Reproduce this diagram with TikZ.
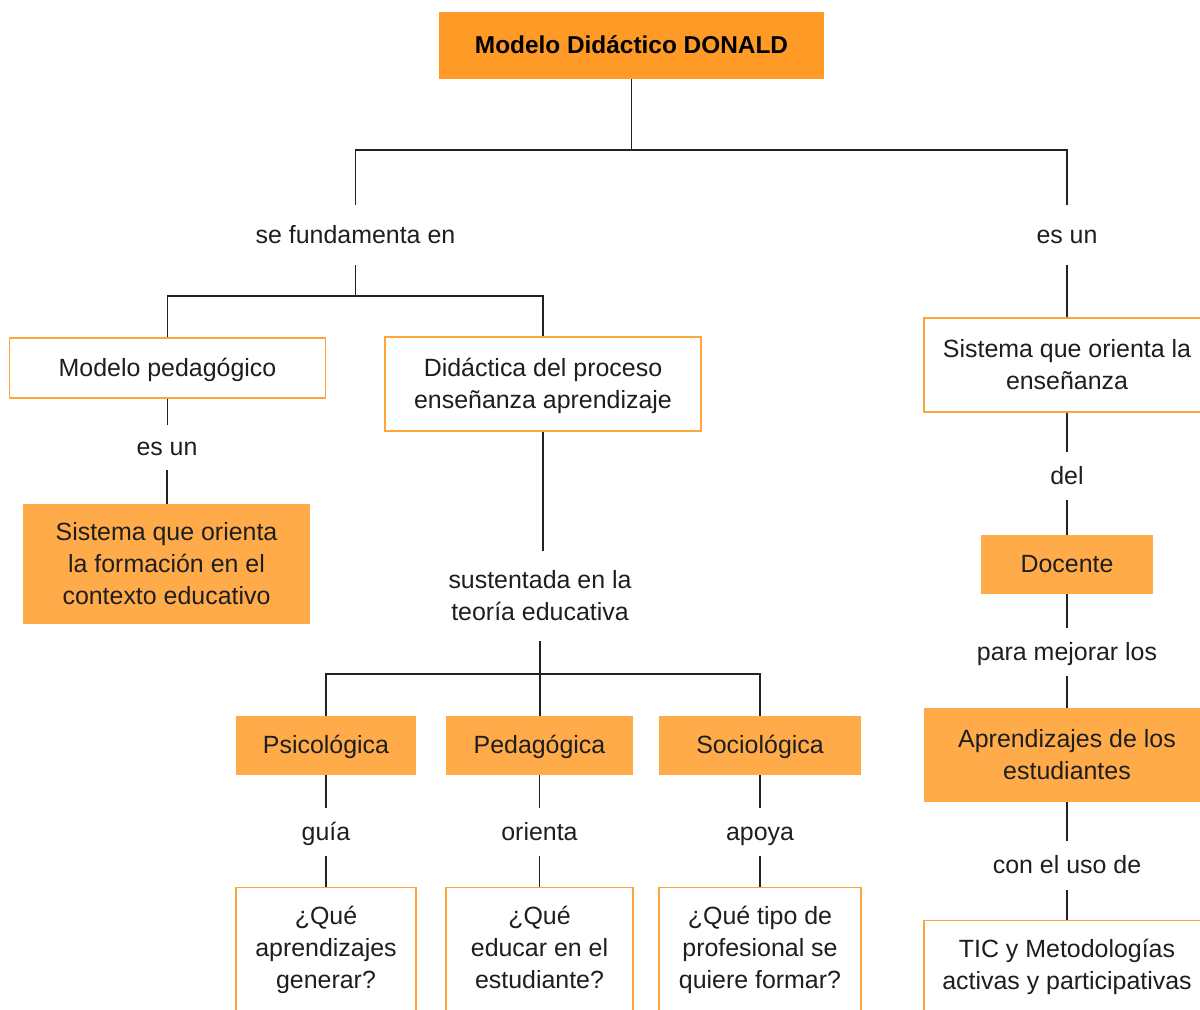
\documentclass[tikz,border=0pt]{standalone}
\usepackage{fontspec}
\setmainfont{Liberation Sans}
\definecolor{titlefill}{HTML}{FF9A27}
\definecolor{boxfill}{HTML}{FFAB4A}
\definecolor{boxline}{HTML}{FFA33A}
\definecolor{txt}{HTML}{1E1E1E}
\definecolor{conncol}{HTML}{222222}
\begin{document}
\begin{tikzpicture}[x=0.75pt,y=-0.75pt,
  base/.style={font=\fontsize{18.7}{24}\selectfont, text=txt, align=center, inner sep=0pt, text depth=0.8pt},
  one/.style={text height=16pt, text depth=3.5pt},
  fbox/.style={base, fill=boxfill, draw=none},
  wbox/.style={base, fill=white, draw=boxline, line width=1.1pt},
  lbl/.style={base, minimum height=36pt},
  conn/.style={draw=conncol, line width=0.9pt}]
\useasboundingbox (0,0) rectangle (1200,1010);
\clip (0,0) rectangle (1200,1010);
% title
\node[base, one, fill=titlefill, minimum width=288.75pt, minimum height=50.25pt,
      font=\fontsize{18.3}{22}\selectfont\bfseries, text=black] (title) at (631.5,45.5) {Modelo Didáctico DONALD};
\coordinate (j1) at (631.5,150);
% labels level 1
\node[lbl, one, minimum height=45pt] (lfund) at (355.5,235) {se fundamenta en};
\node[lbl, one, minimum height=45pt] (lesun) at (1067,235) {es un};
\coordinate (j2) at (355.5,296);
% left branch
\node[wbox, one, minimum width=237pt, minimum height=45pt] (mp) at (167.5,368) {Modelo pedagógico};
\node[wbox, minimum width=237pt, minimum height=70.5pt] (did) at (543,384) {Didáctica del proceso\\enseñanza aprendizaje};
\node[lbl, one, minimum height=33.75pt] (lesun2) at (167,447.5) {es un};
\node[fbox, minimum width=215.25pt, minimum height=90pt] (sis1) at (166.5,564) {Sistema que orienta\\la formación en el\\contexto educativo};
\node[lbl, minimum height=67.5pt] (lsust) at (540,596) {sustentada en la\\teoría educativa};
\coordinate (j3) at (540,674);
\node[fbox, one, minimum width=135pt, minimum height=44.25pt] (psi) at (326,745.5) {Psicológica};
\node[fbox, one, minimum width=140.25pt, minimum height=44.25pt] (ped) at (539.5,745.5) {Pedagógica};
\node[fbox, one, minimum width=151.5pt, minimum height=44.25pt] (soc) at (760,745.5) {Sociológica};
\node[lbl, one] (lguia) at (326,832) {guía};
\node[lbl, one] (lori) at (539.5,832) {orienta};
\node[lbl, one] (lapo) at (760,832) {apoya};
\node[wbox, anchor=north, minimum width=135pt, minimum height=120pt] (q1) at (326,887) {};
\node[wbox, anchor=north, minimum width=140.25pt, minimum height=120pt] (q2) at (539.5,887) {};
\node[wbox, anchor=north, minimum width=151.5pt, minimum height=120pt] (q3) at (760,887) {};
\node[base] (q1t) at (326,948) {¿Qué\\aprendizajes\\generar?};
\node[base] (q2t) at (539.5,948) {¿Qué\\educar en el\\estudiante?};
\node[base] (q3t) at (760,948) {¿Qué tipo de\\profesional se\\quiere formar?};
% right branch
\node[wbox, minimum width=214.5pt, minimum height=70.5pt] (sis2) at (1067,365) {Sistema que orienta la\\enseñanza};
\node[lbl, one] (ldel) at (1067,476) {del};
\node[fbox, one, minimum width=129pt, minimum height=44.25pt] (doc) at (1067,564.5) {Docente};
\node[lbl, one] (lpara) at (1067,652) {para mejorar los};
\node[fbox, minimum width=214.5pt, minimum height=70.5pt] (apr) at (1067,755) {Aprendizajes de los\\estudiantes};
\node[lbl, one] (lcon) at (1067,865.5) {con el uso de};
\node[wbox, anchor=north, minimum width=214.5pt, minimum height=120pt] (tic) at (1067,920) {};
\node[base] (tict) at (1067,965) {TIC y Metodologías\\activas y participativas};
% connectors
\draw[conn] (title.south) -- (j1);
\draw[conn] (lfund.north) |- (j1) -| (lesun.north);
\draw[conn] (lfund.south) -- (j2);
\draw[conn] (mp.north) |- (j2) -| (did.north);
\draw[conn] (mp.south) -- (mp.south |- lesun2.north);
\draw[conn] (lesun2.south) -- (lesun2.south |- sis1.north);
\draw[conn] (did.south) -- (did.south |- lsust.north);
\draw[conn] (lsust.south) -- (j3);
\draw[conn] (psi.north) |- (j3) -| (soc.north);
\draw[conn] (j3) -- (j3 |- ped.north);
\draw[conn] (psi.south) -- (lguia.north);
\draw[conn] (lguia.south) -- (q1.north);
\draw[conn] (ped.south) -- (lori.north);
\draw[conn] (lori.south) -- (q2.north);
\draw[conn] (soc.south) -- (lapo.north);
\draw[conn] (lapo.south) -- (q3.north);
\draw[conn] (lesun.south) -- (sis2.north);
\draw[conn] (sis2.south) -- (ldel.north);
\draw[conn] (ldel.south) -- (doc.north);
\draw[conn] (doc.south) -- (lpara.north);
\draw[conn] (lpara.south) -- (apr.north);
\draw[conn] (apr.south) -- (lcon.north);
\draw[conn] (lcon.south) -- (tic.north);
\end{tikzpicture}
\end{document}
